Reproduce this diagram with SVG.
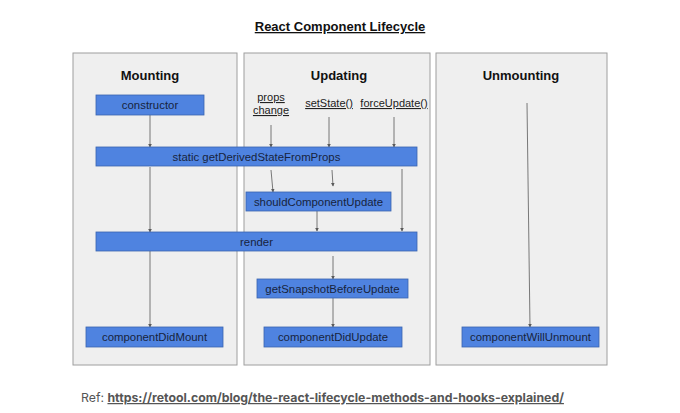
<svg xmlns="http://www.w3.org/2000/svg" width="680" height="413" viewBox="0 0 680 413">
<style>
.panel{fill:#efefef;stroke:#9e9e9e;stroke-width:1}
.box{fill:#4f83e0;stroke:#3a64b0;stroke-width:0.8}
.bt{font-family:"Liberation Sans",Arial,sans-serif;font-size:11.4px;fill:#17233d;text-anchor:middle}
.ht{font-family:"Liberation Sans",Arial,sans-serif;font-size:13px;font-weight:bold;fill:#111;text-anchor:middle}
.trig{font-family:"Liberation Sans",Arial,sans-serif;font-size:11px;fill:#222;text-anchor:middle;text-decoration:underline}
.arr{stroke:#6a6a6a;stroke-width:0.9;fill:none;marker-end:url(#ah)}
</style>
<defs>
<marker id="ah" viewBox="0 0 6 6" refX="5" refY="3" markerWidth="4" markerHeight="4" orient="auto">
<path d="M0,0 L6,3 L0,6 z" fill="#5a5a5a"/>
</marker>
</defs>
<rect width="680" height="413" fill="#ffffff"/>
<text x="340" y="31" class="ht" style="text-decoration:underline">React Component Lifecycle</text>

<g id="panel-mounting">
<rect class="panel" x="73" y="53" width="164" height="312"/>
<text class="ht" x="150" y="80">Mounting</text>
</g>
<g id="panel-updating">
<rect class="panel" x="244" y="53" width="186" height="312"/>
<text class="ht" x="339" y="80">Updating</text>
</g>
<g id="panel-unmounting">
<rect class="panel" x="436" y="53" width="171" height="312"/>
<text class="ht" x="521" y="80">Unmounting</text>
</g>

<g id="trigger-props"><text class="trig" x="271" y="101">props</text><text class="trig" x="271" y="114">change</text></g>
<g id="trigger-setstate"><text class="trig" x="329" y="107">setState()</text></g>
<g id="trigger-forceupdate"><text class="trig" x="394" y="107">forceUpdate()</text></g>

<g id="connectors">
<line class="arr" x1="150" y1="115" x2="150" y2="147"/>
<line class="arr" x1="271" y1="125" x2="271" y2="147"/>
<line class="arr" x1="329" y1="117" x2="329" y2="147"/>
<line class="arr" x1="394" y1="117" x2="394" y2="147"/>
<line class="arr" x1="150" y1="167" x2="150" y2="232"/>
<line class="arr" x1="271" y1="170" x2="273" y2="192"/>
<line class="arr" x1="332" y1="170" x2="333" y2="186"/>
<line class="arr" x1="402" y1="169" x2="402" y2="231"/>
<line class="arr" x1="317" y1="211" x2="317" y2="231"/>
<line class="arr" x1="150" y1="251" x2="150" y2="327"/>
<line class="arr" x1="333" y1="256" x2="333" y2="279"/>
<line class="arr" x1="333" y1="298" x2="333" y2="327"/>
<line class="arr" x1="527" y1="103" x2="530" y2="327"/>
</g>

<g id="node-constructor"><rect class="box" x="96" y="95" width="108" height="20"/><text class="bt" x="150" y="109">constructor</text></g>
<g id="node-getderived"><rect class="box" x="96" y="147" width="321" height="19"/><text class="bt" x="256.5" y="160.5">static getDerivedStateFromProps</text></g>
<g id="node-should"><rect class="box" x="246" y="192" width="145" height="19"/><text class="bt" x="318.5" y="205.5">shouldComponentUpdate</text></g>
<g id="node-render"><rect class="box" x="96" y="232" width="321" height="19"/><text class="bt" x="256.5" y="245.5">render</text></g>
<g id="node-snapshot"><rect class="box" x="257" y="279" width="151" height="19"/><text class="bt" x="332.5" y="292.5">getSnapshotBeforeUpdate</text></g>
<g id="node-didmount"><rect class="box" x="86" y="327" width="137" height="20"/><text class="bt" x="154.5" y="341">componentDidMount</text></g>
<g id="node-didupdate"><rect class="box" x="264" y="327" width="138" height="20"/><text class="bt" x="333" y="341">componentDidUpdate</text></g>
<g id="node-willunmount"><rect class="box" x="462" y="327" width="137" height="20"/><text class="bt" x="530.5" y="341">componentWillUnmount</text></g>

<text x="81" y="402" font-family="Inter,'Liberation Sans',sans-serif" font-size="12.3px" fill="#555">Ref: <tspan font-weight="bold" fill="#555" text-decoration="underline">https://retool.com/blog/the-react-lifecycle-methods-and-hooks-explained/</tspan></text>
</svg>
